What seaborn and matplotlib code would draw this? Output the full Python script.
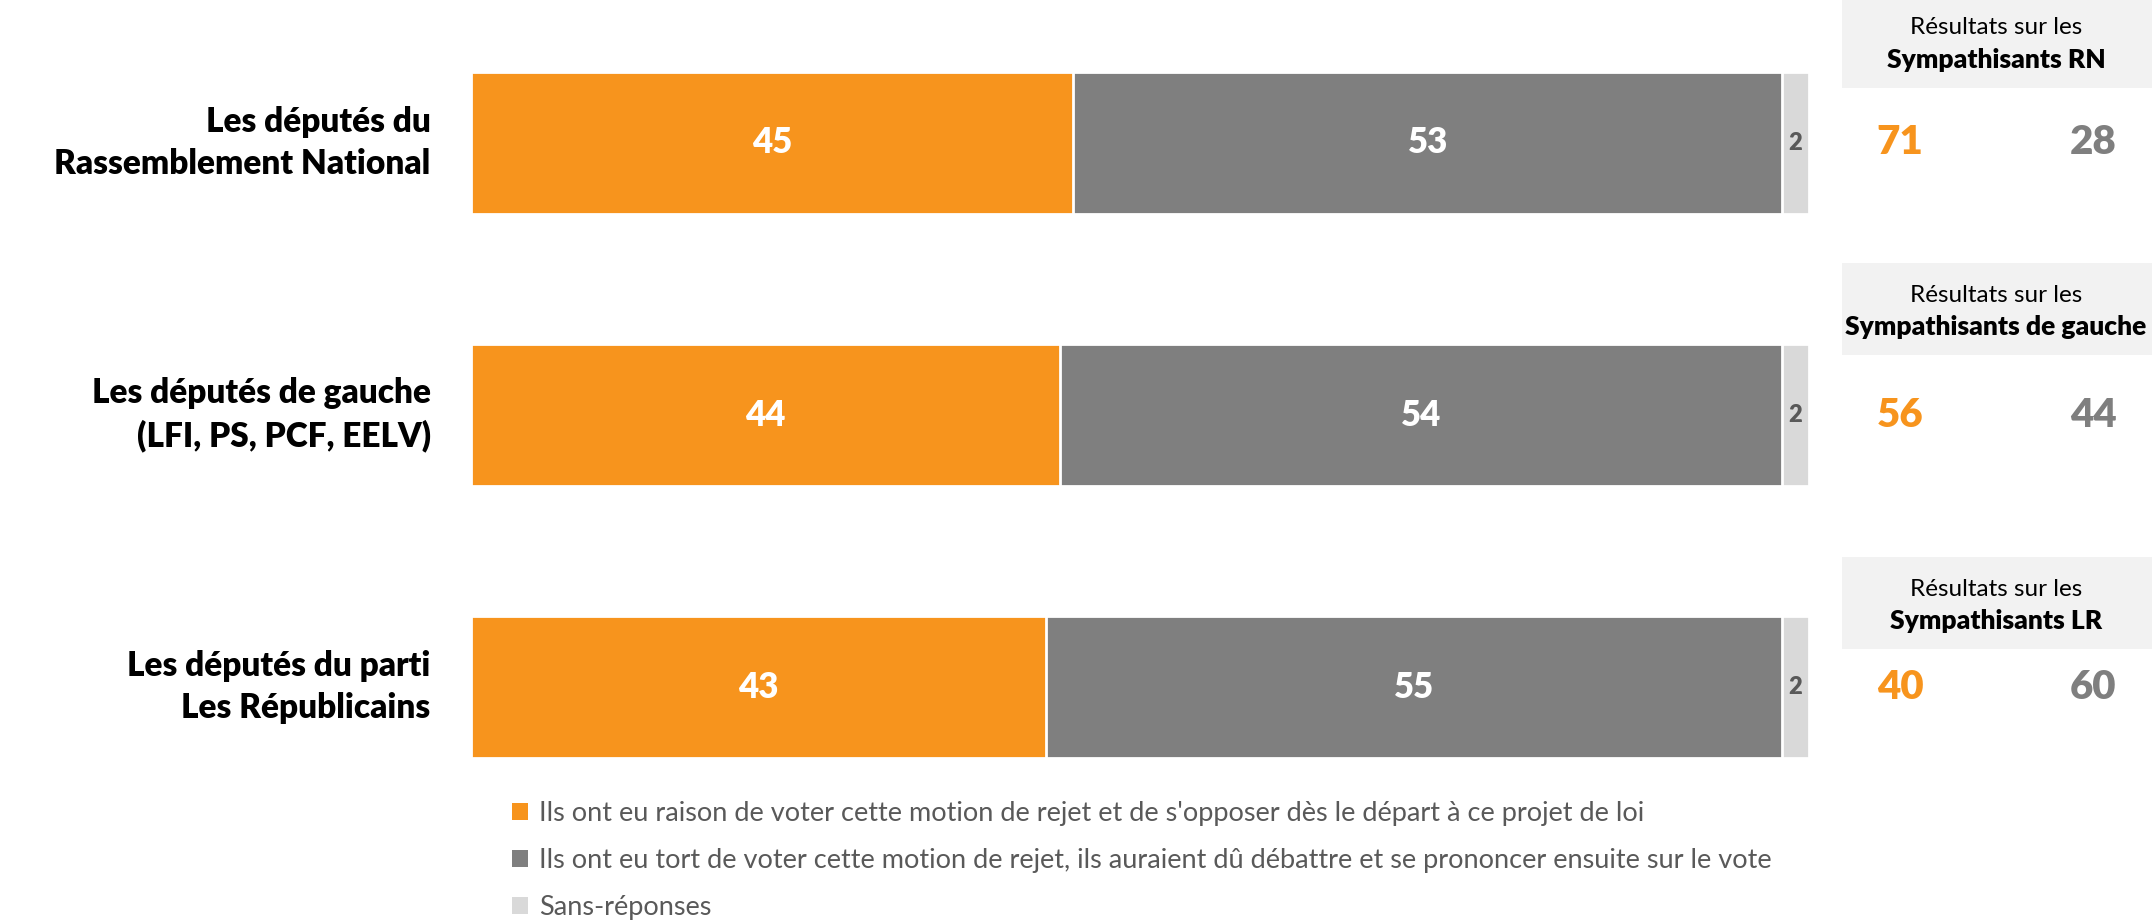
import matplotlib
matplotlib.use("Agg")
import matplotlib.pyplot as plt
import seaborn as sns
import pandas as pd
import numpy as np
from matplotlib.patches import Patch, Rectangle
from matplotlib.transforms import blended_transform_factory

sns.set_theme(style="white")
plt.rcParams['font.family'] = ['Lato', 'DejaVu Sans']

# ---- data ----
categories = ["Les députés du\nRassemblement National",
              "Les députés de gauche\n(LFI, PS, PCF, EELV)",
              "Les députés du parti\nLes Républicains"]
raison = [45, 44, 43]
tort = [53, 54, 55]
sans_rep = [2, 2, 2]
legend_labels = ["Ils ont eu raison de voter cette motion de rejet et de s'opposer dès le départ à ce projet de loi",
                 "Ils ont eu tort de voter cette motion de rejet, ils auraient dû débattre et se prononcer ensuite sur le vote",
                 "Sans-réponses"]
sympa_groups = ["Sympathisants RN", "Sympathisants de gauche", "Sympathisants LR"]
sympa_raison = [71, 56, 40]
sympa_tort = [28, 44, 60]

ORANGE = "#F7941D"
GRAY = "#7F7F7F"
LIGHT = "#D9D9D9"
TXT = "#595959"
BOLD = "heavy"

W, H = 2152, 923
fig = plt.figure(figsize=(W / 100, H / 100), dpi=100)
ax = fig.add_axes([471 / W, 1 - 758 / H, 1338 / W, 686 / H])

df = pd.DataFrame({"cat": categories, "raison": raison, "tort": tort, "sr": sans_rep})
df["c2"] = df["raison"] + df["tort"]
df["c3"] = df["c2"] + df["sr"]

bw = 0.52
sns.barplot(data=df, y="cat", x="c3", color=LIGHT, orient="h", width=bw, ax=ax,
            edgecolor="white", linewidth=2, saturation=1)
sns.barplot(data=df, y="cat", x="c2", color=GRAY, orient="h", width=bw, ax=ax,
            edgecolor="white", linewidth=2, saturation=1)
sns.barplot(data=df, y="cat", x="raison", color=ORANGE, orient="h", width=bw, ax=ax,
            edgecolor="white", linewidth=2, saturation=1)

ax.set_xlim(0, 100)
ax.set_ylim(2 + bw / 2, -bw / 2)
ax.set_xlabel("")
ax.set_ylabel("")
ax.set_xticks([])
for s in ax.spines.values():
    s.set_visible(False)
ax.tick_params(axis="y", length=0, pad=29)
for lab in ax.get_yticklabels():
    lab.set_fontsize(24)
    lab.set_fontweight(BOLD)
    lab.set_color("black")
    lab.set_linespacing(1.4)
    lab.set_va("center")

# segment labels
for i in range(len(categories)):
    ax.text(raison[i] / 2, i, str(raison[i]), ha="center", va="center",
            color="white", fontsize=25, fontweight=BOLD)
    ax.text(raison[i] + tort[i] / 2, i, str(tort[i]), ha="center", va="center",
            color="white", fontsize=25, fontweight=BOLD)
    ax.text(raison[i] + tort[i] + sans_rep[i] / 2, i, str(sans_rep[i]), ha="center",
            va="center", color=TXT, fontsize=17, fontweight=BOLD)

# right panel
tr = blended_transform_factory(fig.transFigure, ax.transData)
box_bottoms = [88, 355, 649]
for i in range(len(categories)):
    bb = box_bottoms[i]
    fig.patches.append(Rectangle((1842 / W, 1 - bb / H), (W - 1842) / W, 92 / H,
                                 transform=fig.transFigure, facecolor="#F2F2F2",
                                 edgecolor="none", zorder=0))
    fig.text(1996 / W, 1 - (bb - 60) / H, "Résultats sur les", ha="center", va="center",
             fontsize=17.5, color="black")
    fig.text(1996 / W, 1 - (bb - 28) / H, sympa_groups[i], ha="center", va="center",
             fontsize=19, fontweight=BOLD, color="black")
    ax.text(1900 / W, i, str(sympa_raison[i]), transform=tr, ha="center", va="center",
            fontsize=29, fontweight=BOLD, color=ORANGE, clip_on=False)
    ax.text(2093 / W, i, str(sympa_tort[i]), transform=tr, ha="center", va="center",
            fontsize=29, fontweight=BOLD, color=GRAY, clip_on=False)

handles = [Patch(facecolor=c, edgecolor="none") for c in (ORANGE, GRAY, LIGHT)]
fig.legend(handles, legend_labels, loc="upper left", bbox_to_anchor=(512 / W, 1 - 801 / H),
           frameon=False, fontsize=19.5, labelcolor=TXT, handlelength=0.6, handleheight=0.6,
           handletextpad=0.4, labelspacing=0.82, borderaxespad=0, borderpad=0)

fig.savefig("out.png", dpi=100, facecolor="white")
